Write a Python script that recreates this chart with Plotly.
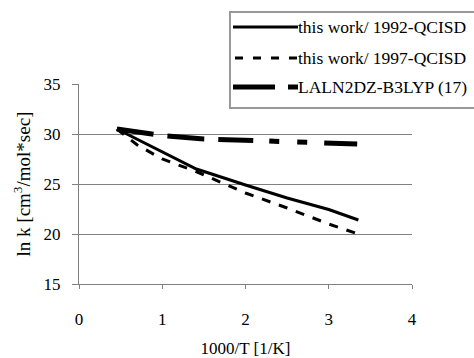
import plotly.graph_objects as go

# data (1000/T, ln k)
x_1992 = [0.455, 1.0, 1.41, 2.0, 2.5, 3.0, 3.356]
y_1992 = [30.5, 28.2, 26.5, 24.9, 23.6, 22.45, 21.4]
x_1997 = [0.455, 0.7, 1.0, 1.42, 2.0, 2.5, 3.0, 3.356]
y_1997 = [30.5, 28.9, 27.5, 26.2, 24.1, 22.6, 21.0, 20.0]
x_laln = [0.455, 1.0, 1.5, 2.0, 2.5, 3.0, 3.356]
y_laln = [30.5, 29.85, 29.5, 29.35, 29.25, 29.15, 29.0]
names = ["this work/ 1992-QCISD", "this work/ 1997-QCISD", "LALN2DZ-B3LYP (17)"]
x_ticks = [0, 1, 2, 3, 4]
y_ticks = [15, 20, 25, 30, 35]
grid_vals = [20, 25, 30]

SERIF = "Liberation Serif"
GRAY = "#808080"
long_dash = "37px,14px,37px,14px,35px,16px,10px,18px,10px,17px,33px,200px"
short_dash = "9px,9px"

fig = go.Figure()
fig.add_trace(go.Scatter(x=x_1992, y=y_1992, mode="lines", name=names[0],
                         line=dict(color="black", width=3)))
fig.add_trace(go.Scatter(x=x_1997, y=y_1997, mode="lines", name=names[1],
                         line=dict(color="black", width=3, dash=short_dash)))
fig.add_trace(go.Scatter(x=x_laln, y=y_laln, mode="lines", name=names[2],
                         line=dict(color="black", width=5, dash=long_dash)))

L, R, T, B = 79, 62, 84, 74
W, H = 474, 358
pw, ph = W - L - R, H - T - B

def px(xp):
    return (xp - L) / pw

def py(yp):
    return (H - B - yp) / ph

shapes = [dict(type="rect", xref="paper", yref="paper",
               x0=px(230), x1=px(478), y0=py(108), y1=py(12),
               line=dict(color="#999999", width=2), fillcolor="white", layer="above")]
rows = [27, 58, 87]
samples = [dict(color="black", width=3),
           dict(color="black", width=3, dash="8px,10px"),
           dict(color="black", width=5, dash="42px,13px,10px,40px")]
starts = [233, 235, 233]
annotations = []
for i in range(3):
    shapes.append(dict(type="line", xref="paper", yref="paper",
                       x0=px(starts[i]), x1=px(298), y0=py(rows[i]), y1=py(rows[i]),
                       line=samples[i], layer="above"))
    annotations.append(dict(xref="paper", yref="paper", x=px(296), y=py(rows[i]),
                            text=names[i], showarrow=False, xanchor="left", yanchor="middle",
                            font=dict(family=SERIF, size=17.5, color="black")))

fig.update_layout(
    width=W, height=H,
    margin=dict(l=L, r=R, t=T, b=B, autoexpand=False),
    paper_bgcolor="white", plot_bgcolor="white",
    showlegend=False,
    font=dict(family=SERIF, size=17, color="black"),
    xaxis=dict(range=[0, 4], tickvals=x_ticks, ticks="outside", ticklen=4,
               tickcolor=GRAY, showline=True, linecolor=GRAY, linewidth=1,
               showgrid=False, zeroline=False, ticklabelstandoff=16, automargin=False,
               title=dict(text="1000/T [1/K]", standoff=13,
                          font=dict(family=SERIF, size=17))),
    yaxis=dict(range=[15, 35], tickvals=y_ticks, ticks="outside", ticklen=6,
               tickcolor=GRAY, showline=True, linecolor=GRAY, linewidth=1,
               showgrid=False, zeroline=False, ticklabelstandoff=8, automargin=False,
               title=dict(text="ln k [cm<sup>3</sup>/mol*sec]", standoff=7,
                          font=dict(family=SERIF, size=19))),
    yaxis2=dict(range=[15, 35], overlaying="y", tickvals=grid_vals, showgrid=True,
                gridcolor=GRAY, gridwidth=1, showticklabels=False, ticks="",
                showline=False, zeroline=False),
    shapes=shapes,
    annotations=annotations,
)
# invisible trace to activate yaxis2
fig.add_trace(go.Scatter(x=[None], y=[None], yaxis="y2", showlegend=False, hoverinfo="skip"))

fig.write_html("out.html", config={"displayModeBar": False},
               post_script="document.body.style.margin='0';document.body.style.padding='0';")
